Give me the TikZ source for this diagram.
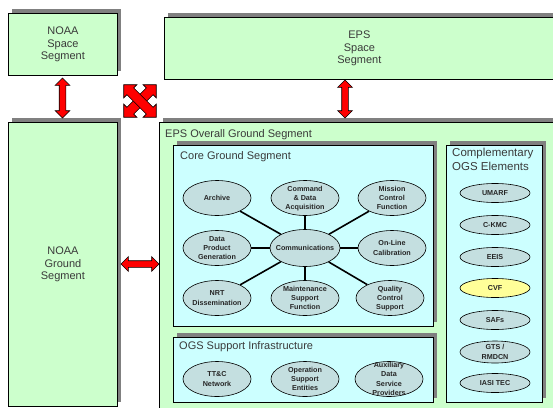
\documentclass[tikz,border=0pt]{standalone}
\usepackage{fontspec}
\setmainfont{Liberation Sans}
\usetikzlibrary{shapes.geometric,shapes.arrows,shadows,positioning}
\definecolor{segGreen}{HTML}{CCFFCC}
\definecolor{coreCyan}{HTML}{CCFFFF}
\definecolor{elemFill}{HTML}{C4DFE0}
\definecolor{cvfYellow}{HTML}{FFFF99}
\definecolor{txtGray}{HTML}{3A3A3A}
\newcommand{\etxt}[1]{\makebox[0pt]{\smash{\raisebox{-2.4pt}{\begin{tabular}{@{}c@{}}#1\end{tabular}}}}}
\tikzset{
  shadebox/.style={drop shadow={shadow xshift=4pt,shadow yshift=4pt,fill=black!50,opacity=1}},
  segbox/.style={draw=black,line width=0.8pt,fill=segGreen,shadebox,anchor=north west,
    align=center,text=txtGray,font=\fontsize{11}{12.8}\selectfont},
  corebox/.style={segbox,fill=coreCyan},
  hdr/.style={anchor=base west,inner sep=0pt,text=txtGray,font=\fontsize{11}{14}\selectfont},
  elem/.style={ellipse,draw=black,line width=0.6pt,fill=elemFill,inner sep=0pt,
    minimum width=68,minimum height=35,text=black!85,font=\bfseries\fontsize{7.2}{9.2}\selectfont},
  smallelem/.style={elem,minimum width=70,minimum height=19},
  link/.style={line width=1.6pt},
  dblarrow/.style={double arrow,draw=black,fill=red,line width=0.6pt,inner sep=3pt,
    double arrow head extend=4pt,double arrow head indent=0pt}
}
\begin{document}
\begin{tikzpicture}[x=1pt,y=-1pt]
  \useasboundingbox (0,0) rectangle (553,407);
  \clip (0,0) rectangle (553,407);
  \node[segbox,minimum width=109,minimum height=62] (nsp) at (8,13) {NOAA\\Space\\Segment};
  \node[segbox,minimum width=390,minimum height=62] (esp) at (164,17) {EPS\\Space\\Segment};
  \node[segbox,minimum width=109,minimum height=284] (ngs) at (8,122) {NOAA\\Ground\\Segment};
  \node[segbox,minimum width=400,minimum height=300] (ogs) at (159,122) {};
  \node[hdr] (ogslbl) at (165,137) {EPS Overall Ground Segment};

  \node[dblarrow,rotate=90,minimum height=40] (nsparr) at (62.5,98) {};
  \node[dblarrow,rotate=90,minimum height=38] (esparr) at (345,99) {};
  \node[dblarrow,minimum height=38] (ngsarr) at (140,264) {};
  \node[dblarrow,rotate=45,minimum height=46,inner sep=4.5pt,double arrow head extend=4.5pt] (noxa) at (140,101) {};
  \node[dblarrow,rotate=-45,minimum height=46,inner sep=4.5pt,double arrow head extend=4.5pt] (noxb) at (140,101) {};

  \node[corebox,minimum width=260,minimum height=181] (core) at (173,145) {};
  \node[hdr] (corelbl) at (180,159) {Core Ground Segment};
  \node[corebox,minimum width=260,minimum height=65] (sup) at (173,337) {};
  \node[hdr] (suplbl) at (179,349) {OGS Support Infrastructure};
  \node[corebox,minimum width=96,minimum height=257] (comp) at (446,145) {};
  \node[hdr,anchor=north west,align=left,font=\fontsize{11.5}{14}\selectfont] (complbl) at (452,148) {Complementary\\OGS Elements};

  \node[elem,minimum width=70,minimum height=37] (comm) at (305,248) {\etxt{Communications}};
  \node[elem] (arch) at (217,198) {\etxt{Archive}};
  \node[elem] (cda) at (305,198) {\etxt{Command\\\& Data\\Acquisition}};
  \node[elem] (mcf) at (392,198) {\etxt{Mission\\Control\\Function}};
  \node[elem] (dpg) at (217,248) {\etxt{Data\\Product\\Generation}};
  \node[elem] (olc) at (392,248) {\etxt{On-Line\\Calibration}};
  \node[elem] (nrt) at (217,298) {\etxt{NRT\\Dissemination}};
  \node[elem] (msf) at (305,298) {\etxt{Maintenance\\Support\\Function}};
  \node[elem] (qcs) at (390,298) {\etxt{Quality\\Control\\Support}};
  \foreach \n in {arch,cda,mcf,dpg,olc,nrt,msf,qcs}
    \draw[link] (comm) -- (\n);

  \node[elem] (ttc) at (217,379) {\etxt{TT\&C\\Network}};
  \node[elem] (ose) at (305,379) {\etxt{Operation\\Support\\Entities}};
  \node[elem] (adsp) at (389,379) {\etxt{Auxiliary\\Data\\Service\\Providers}};

  \node[smallelem] (umarf) at (495,193) {\etxt{UMARF}};
  \node[smallelem] (ckmc) at (495,225) {\etxt{C-KMC}};
  \node[smallelem] (eeis) at (495,257) {\etxt{EEIS}};
  \node[smallelem,fill=cvfYellow] (cvf) at (495,288) {\etxt{CVF}};
  \node[smallelem] (safs) at (495,320) {\etxt{SAFs}};
  \node[smallelem,minimum height=22] (gts) at (495,352) {\etxt{GTS /\\RMDCN}};
  \node[smallelem] (iasi) at (495,383) {\etxt{IASI TEC}};
\end{tikzpicture}
\end{document}
